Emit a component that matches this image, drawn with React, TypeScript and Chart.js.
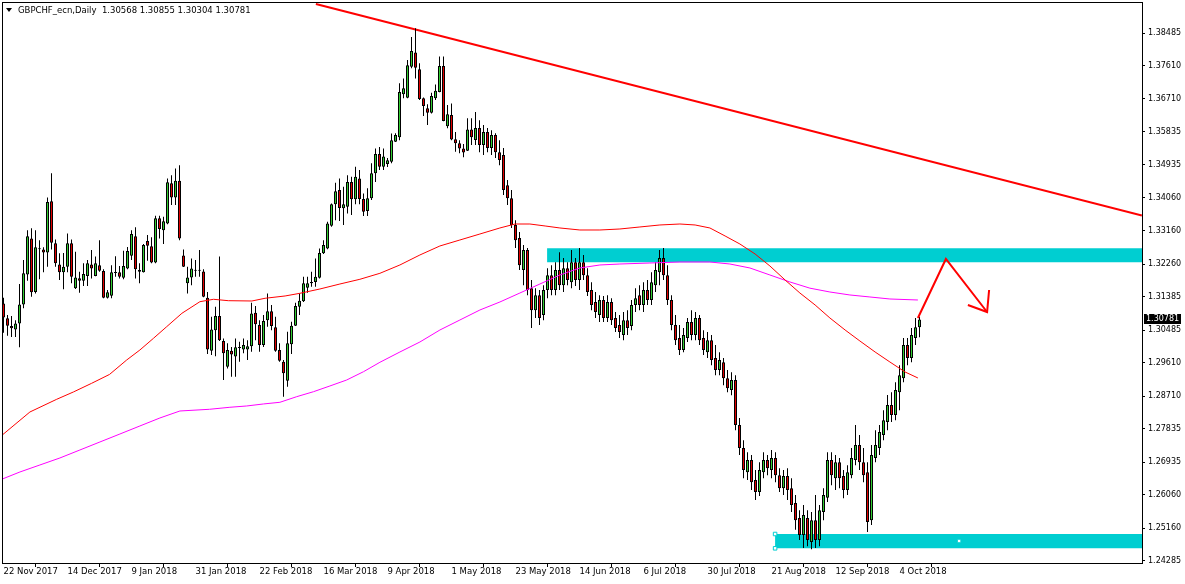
import React, { useEffect, useRef } from "react";
import { Chart, registerables } from "chart.js";

Chart.register(...registerables);

// ---------- data ----------
const dateTickIdx = [0, 16, 32, 48, 64, 80, 96, 112, 128, 144, 160, 176, 192, 208, 224];
const dateTickLabels = [
  "22 Nov 2017", "14 Dec 2017", "9 Jan 2018", "31 Jan 2018", "22 Feb 2018",
  "16 Mar 2018", "9 Apr 2018", "1 May 2018", "23 May 2018", "14 Jun 2018",
  "6 Jul 2018", "30 Jul 2018", "21 Aug 2018", "12 Sep 2018", "4 Oct 2018",
];
const priceTicks = [
  1.38485, 1.3761, 1.3671, 1.35835, 1.34935, 1.3406, 1.3316, 1.3226, 1.31385,
  1.30485, 1.2961, 1.2871, 1.27835, 1.26935, 1.2606, 1.2516, 1.24285,
];

const opens = [
  1.3121,1.3081,1.3060,1.3051,1.3067,1.3118,1.3199,1.3296,1.3152,1.3268,
  1.3266,1.3258,1.3396,1.3283,1.3226,1.3205,1.3220,1.3283,1.3162,1.3189,
  1.3182,1.3195,1.3226,1.3195,1.3224,1.3208,1.3136,1.3142,1.3203,1.3205,
  1.3190,1.3215,1.3249,1.3302,1.3211,1.3205,1.3289,1.3275,1.3231,1.3350,
  1.3318,1.3336,1.3444,1.3406,1.3451,1.3250,1.3175,1.3191,1.3211,1.3209,
  1.3207,1.3136,1.2994,1.3049,1.3087,1.3020,1.2951,1.2994,1.2978,1.3002,
  1.2997,1.2997,1.3006,1.3096,1.3063,1.3009,1.3076,1.3100,1.3057,1.2996,
  1.2964,1.2913,1.3011,1.3061,1.3112,1.3127,1.3163,1.3175,1.3179,1.3190,
  1.3256,1.3269,1.3330,1.3388,1.3426,1.3377,1.3381,1.3448,1.3401,1.3457,
  1.3402,1.3370,1.3404,1.3471,1.3523,1.3489,1.3496,1.3502,1.3556,1.3568,
  1.3684,1.3674,1.3758,1.3796,1.3751,1.3673,1.3646,1.3634,1.3673,1.3690,
  1.3760,1.3598,1.3628,1.3563,1.3552,1.3538,1.3532,1.3589,1.3561,1.3593,
  1.3547,1.3582,1.3539,1.3574,1.3528,1.3520,1.3439,1.3404,1.3332,1.3297,
  1.3211,1.3265,1.3162,1.3103,1.3143,1.3090,1.3157,1.3197,1.3157,1.3211,
  1.3170,1.3216,1.3178,1.3232,1.3184,1.3232,1.3197,1.3157,1.3125,1.3090,
  1.3130,1.3082,1.3125,1.3082,1.3063,1.3036,1.3076,1.3060,1.3117,1.3143,
  1.3117,1.3157,1.3130,1.3170,1.3205,1.3243,1.3197,1.3130,1.3063,1.3028,
  1.2996,1.3028,1.3071,1.3036,1.3082,1.3028,1.2990,1.3022,1.2974,1.2942,
  1.2963,1.2920,1.2888,1.2915,1.2794,1.2732,1.2667,1.2700,1.2646,1.2614,
  1.2667,1.2700,1.2673,1.2705,1.2659,1.2624,1.2657,1.2624,1.2584,1.2544,
  1.2498,1.2544,1.2479,1.2538,1.2485,1.2560,1.2598,1.2700,1.2651,1.2694,
  1.2657,1.2619,1.2659,1.2700,1.2740,1.2694,1.2667,1.2538,1.2705,1.2732,
  1.2767,1.2802,1.2848,1.2821,1.2882,1.2920,1.3009,1.2974,1.3028,1.30568,
];
const highs = [
  1.3136,1.3090,1.3087,1.3076,1.3173,1.3238,1.3318,1.3323,1.3318,1.3291,
  1.3272,1.3406,1.3471,1.3293,1.3256,1.3257,1.3309,1.3293,1.3260,1.3206,
  1.3229,1.3238,1.3265,1.3247,1.3291,1.3213,1.3157,1.3224,1.3248,1.3222,
  1.3263,1.3273,1.3318,1.3326,1.3229,1.3281,1.3305,1.3299,1.3357,1.3357,
  1.3354,1.3457,1.3466,1.3484,1.3493,1.3266,1.3220,1.3242,1.3238,1.3265,
  1.3213,1.3152,1.3085,1.3112,1.3247,1.3027,1.3014,1.3004,1.3027,1.3018,
  1.3027,1.3022,1.3123,1.3114,1.3076,1.3090,1.3148,1.3117,1.3085,1.3014,
  1.2969,1.3045,1.3072,1.3123,1.3148,1.3193,1.3193,1.3206,1.3242,1.3269,
  1.3291,1.3341,1.3390,1.3446,1.3457,1.3435,1.3466,1.3462,1.3489,1.3480,
  1.3417,1.3431,1.3498,1.3538,1.3542,1.3538,1.3512,1.3578,1.3579,1.3713,
  1.3726,1.3776,1.3838,1.3861,1.3767,1.3675,1.3657,1.3688,1.3710,1.3785,
  1.3785,1.3655,1.3659,1.3582,1.3560,1.3550,1.3619,1.3619,1.3636,1.3614,
  1.3601,1.3593,1.3587,1.3579,1.3560,1.3539,1.3453,1.3426,1.3345,1.3313,
  1.3278,1.3270,1.3184,1.3162,1.3157,1.3170,1.3216,1.3224,1.3232,1.3259,
  1.3243,1.3232,1.3265,1.3243,1.3270,1.3251,1.3216,1.3178,1.3152,1.3143,
  1.3141,1.3143,1.3135,1.3098,1.3090,1.3098,1.3103,1.3130,1.3162,1.3170,
  1.3178,1.3184,1.3205,1.3232,1.3265,1.3270,1.3224,1.3143,1.3090,1.3063,
  1.3055,1.3082,1.3103,1.3098,1.3090,1.3049,1.3044,1.3036,1.3009,1.2990,
  1.2974,1.2942,1.2936,1.2928,1.2813,1.2753,1.2721,1.2713,1.2673,1.2694,
  1.2721,1.2713,1.2727,1.2721,1.2678,1.2673,1.2678,1.2651,1.2606,1.2565,
  1.2579,1.2565,1.2560,1.2606,1.2579,1.2624,1.2721,1.2721,1.2713,1.2705,
  1.2673,1.2686,1.2732,1.2794,1.2767,1.2732,1.2694,1.2740,1.2780,1.2794,
  1.2834,1.2875,1.2882,1.2909,1.2955,1.3028,1.3028,1.3055,1.3082,1.30855,
];
const lows = [
  1.3042,1.3034,1.3031,1.3031,1.3003,1.3108,1.3182,1.3139,1.3148,1.3186,
  1.3205,1.3220,1.3266,1.3220,1.3184,1.3159,1.3205,1.3175,1.3160,1.3150,
  1.3168,1.3168,1.3188,1.3194,1.3206,1.3135,1.3134,1.3135,1.3193,1.3188,
  1.3186,1.3213,1.3238,1.3188,1.3175,1.3204,1.3236,1.3229,1.3229,1.3296,
  1.3281,1.3334,1.3386,1.3386,1.3291,1.3219,1.3148,1.3170,1.3193,1.3193,
  1.3138,1.2985,1.2982,1.2979,1.3020,1.2915,1.2946,1.2924,1.2924,1.2964,
  1.2987,1.2969,1.2991,1.3022,1.2991,1.3004,1.3058,1.3049,1.2991,1.2964,
  1.2870,1.2897,1.2985,1.3060,1.3090,1.3125,1.3150,1.3166,1.3166,1.3188,
  1.3254,1.3267,1.3327,1.3345,1.3343,1.3332,1.3363,1.3359,1.3388,1.3388,
  1.3356,1.3356,1.3399,1.3448,1.3480,1.3480,1.3488,1.3498,1.3555,1.3560,
  1.3673,1.3673,1.3754,1.3726,1.3668,1.3625,1.3601,1.3632,1.3668,1.3689,
  1.3611,1.3592,1.3560,1.3529,1.3525,1.3514,1.3531,1.3547,1.3547,1.3528,
  1.3520,1.3528,1.3520,1.3512,1.3493,1.3413,1.3386,1.3324,1.3270,1.3211,
  1.3170,1.3143,1.3055,1.3082,1.3063,1.3076,1.3135,1.3143,1.3143,1.3157,
  1.3152,1.3170,1.3162,1.3168,1.3157,1.3184,1.3141,1.3103,1.3082,1.3071,
  1.3071,1.3071,1.3063,1.3044,1.3028,1.3022,1.3036,1.3049,1.3098,1.3103,
  1.3098,1.3117,1.3117,1.3152,1.3170,1.3184,1.3117,1.3049,1.3009,1.2982,
  1.2990,1.3017,1.3022,1.3022,1.3009,1.2982,1.2974,1.2955,1.2928,1.2928,
  1.2901,1.2882,1.2874,1.2780,1.2713,1.2651,1.2646,1.2619,1.2592,1.2603,
  1.2651,1.2659,1.2651,1.2640,1.2614,1.2606,1.2592,1.2560,1.2512,1.2485,
  1.2463,1.2468,1.2460,1.2463,1.2468,1.2538,1.2587,1.2632,1.2619,1.2624,
  1.2597,1.2606,1.2651,1.2686,1.2673,1.2640,1.2506,1.2525,1.2694,1.2713,
  1.2753,1.2780,1.2802,1.2807,1.2834,1.2909,1.2955,1.2963,1.3009,1.30304,
];
const closes = [
  1.3083,1.3061,1.3054,1.3067,1.3118,1.3202,1.3302,1.3151,1.3272,1.3267,
  1.3258,1.3394,1.3284,1.3229,1.3205,1.3220,1.3283,1.3193,1.3191,1.3182,
  1.3200,1.3229,1.3215,1.3229,1.3209,1.3136,1.3151,1.3205,1.3204,1.3193,
  1.3222,1.3262,1.3308,1.3213,1.3206,1.3278,1.3276,1.3231,1.3350,1.3321,
  1.3342,1.3447,1.3406,1.3451,1.3296,1.3220,1.3191,1.3215,1.3209,1.3211,
  1.3139,1.2997,1.3051,1.3087,1.3022,1.2987,1.2996,1.2984,1.3003,1.3001,
  1.3009,1.3006,1.3094,1.3065,1.3009,1.3074,1.3100,1.3060,1.2994,1.2967,
  1.2933,1.3014,1.3061,1.3114,1.3128,1.3175,1.3175,1.3179,1.3193,1.3257,
  1.3278,1.3336,1.3388,1.3423,1.3378,1.3388,1.3448,1.3401,1.3462,1.3402,
  1.3368,1.3404,1.3471,1.3523,1.3489,1.3516,1.3506,1.3560,1.3574,1.3690,
  1.3700,1.3762,1.3800,1.3755,1.3671,1.3652,1.3634,1.3679,1.3693,1.3760,
  1.3612,1.3630,1.3562,1.3552,1.3538,1.3527,1.3589,1.3568,1.3593,1.3547,
  1.3582,1.3539,1.3574,1.3528,1.3507,1.3426,1.3404,1.3332,1.3291,1.3224,
  1.3265,1.3157,1.3103,1.3143,1.3082,1.3157,1.3197,1.3157,1.3211,1.3170,
  1.3216,1.3184,1.3232,1.3184,1.3232,1.3197,1.3152,1.3117,1.3098,1.3130,
  1.3082,1.3125,1.3076,1.3055,1.3044,1.3076,1.3055,1.3117,1.3135,1.3117,
  1.3157,1.3130,1.3178,1.3211,1.3243,1.3197,1.3130,1.3063,1.3022,1.2996,
  1.3036,1.3071,1.3036,1.3082,1.3022,1.2996,1.3022,1.2969,1.2942,1.2969,
  1.2920,1.2893,1.2915,1.2794,1.2732,1.2673,1.2700,1.2640,1.2614,1.2673,
  1.2700,1.2678,1.2705,1.2659,1.2624,1.2657,1.2619,1.2579,1.2538,1.2498,
  1.2552,1.2485,1.2538,1.2485,1.2565,1.2606,1.2700,1.2659,1.2694,1.2651,
  1.2619,1.2667,1.2705,1.2740,1.2694,1.2659,1.2533,1.2713,1.2740,1.2775,
  1.2807,1.2848,1.2821,1.2888,1.2928,1.3009,1.2974,1.3036,1.3057,1.30781,
];

const maRedIdx = [-0.9,6.6,13.3,17.5,22.0,26.5,30.8,34.1,37.5,40.8,44.6,49.1,52.5,56.2,62.1,65.4,70.4,74.1,79.1,84.1,89.1,94.1,99.1,104.1,109.1,114.1,119.1,124.1,127.9,131.6,135.4,139.1,144.1,149.1,154.1,159.1,164.1,169.1,172.9,176.6,180.4,184.1,187.9,191.6,195.4,199.1,202.9,206.6,210.4,214.1,217.9,221.6,225.4,228.6];
const maRedVal = [1.27618,1.2829,1.28632,1.2883,1.2906,1.293,1.29689,1.29958,1.30273,1.30585,1.30945,1.31257,1.31322,1.31284,1.31276,1.31349,1.31411,1.31483,1.31599,1.31733,1.3186,1.32021,1.32245,1.32514,1.32756,1.32917,1.33078,1.3324,1.33347,1.33347,1.33294,1.3324,1.33186,1.33186,1.33213,1.33267,1.33321,1.33347,1.33321,1.3324,1.33025,1.32809,1.3254,1.32218,1.31841,1.31491,1.31169,1.30819,1.30496,1.302,1.29904,1.29635,1.29366,1.29205];
const maMagIdx = [-0.9,4.1,9.1,14.1,19.1,24.1,29.1,34.1,39.1,44.1,51.5,56.6,60.8,65,69.1,73.3,77.5,81.6,85.8,90,94.1,99.1,104.1,109.1,114.1,119.1,124.1,129.1,134.1,139.1,144.1,149.1,154.1,161.6,169.1,176.6,181.6,186.6,191.6,196.6,201.6,206.6,211.6,216.6,221.6,228.6];
const maMagVal = [1.26461,1.26676,1.26865,1.27053,1.27268,1.27483,1.27698,1.27914,1.28129,1.28317,1.28363,1.28417,1.28452,1.28506,1.28551,1.28702,1.28836,1.2899,1.29151,1.29374,1.29627,1.29904,1.30173,1.30496,1.30765,1.31034,1.31249,1.31491,1.31733,1.31976,1.32164,1.32245,1.32271,1.32298,1.32325,1.32325,1.32271,1.32164,1.31976,1.31788,1.31621,1.31518,1.31438,1.31384,1.3133,1.31303];

const trendIdx = [78.1, 284.6];
const trendVal = [1.39265, 1.33576];

const zoneUpperIdx = [135.9, 284.7];
const zoneUpperTop = 1.32694;
const zoneUpperBottom = 1.32318;
const zoneLowerIdx = [192.9, 284.7];
const zoneLowerTop = 1.25008;
const zoneLowerBottom = 1.24623;

const arrowIdx = [228.6, 235.6, 245.9];
const arrowVal = [1.30819, 1.32406, 1.3098];
const arrowHeadIdx = [241.1, 245.9, 246.4];
const arrowHeadVal = [1.31169, 1.3098, 1.31572];

const markerIdx = [192.9, 192.9, 238.9];
const markerVal = [1.25008, 1.24623, 1.2482];

const titleText = "GBPCHF_ecn,Daily  1.30568 1.30855 1.30304 1.30781";

// ---------- styles ----------
const GREEN = "#32CD32";
const RED = "#E00000";
const CYAN = "#00CED1";
const FONT = "'DejaVu Sans', sans-serif";

const pts = (xs: number[], ys: number[]) => xs.map((x, i) => ({ x, y: ys[i] }));

const zeroPad = (scale: any) => {
  scale.paddingTop = 0;
  scale.paddingBottom = 0;
  scale.paddingLeft = 0;
  scale.paddingRight = 0;
};

const framePlugin = {
  id: "mtFrame",
  afterDatasetsDraw(chart: any) {
    const { ctx, chartArea: a } = chart;
    ctx.save();
    ctx.strokeStyle = "#000";
    ctx.lineWidth = 1;
    ctx.strokeRect(a.left + 0.5, a.top + 0.5, a.right - a.left, a.bottom - a.top);
    ctx.restore();
  },
  afterDraw(chart: any) {
    const { ctx, chartArea: a } = chart;
    const last = closes[closes.length - 1];
    const y = Math.round(chart.scales.y.getPixelForValue(last));
    ctx.save();
    ctx.fillStyle = "#000";
    ctx.fillRect(a.right + 2, y - 5, 37, 10);
    ctx.fillStyle = "#fff";
    ctx.font = "8px " + FONT;
    ctx.textBaseline = "middle";
    ctx.textAlign = "left";
    ctx.fillText(last.toFixed(5), a.right + 4, y);
    ctx.restore();
  },
};

export default function App() {
  const ref = useRef<HTMLCanvasElement>(null);

  useEffect(() => {
    const wickData = opens.map((_, i) => ({ x: i, y: [lows[i], highs[i]] }));
    const bodyData = opens.map((o, i) => ({ x: i, y: [o, closes[i]] }));
    const bodyColors = opens.map((o, i) => (closes[i] > o ? GREEN : RED));

    const lineBase = { pointRadius: 0, tension: 0, fill: false };

    const chart = new Chart(ref.current as HTMLCanvasElement, {
      type: "bar",
      data: {
        datasets: [
          {
            type: "line",
            data: pts(zoneUpperIdx, [zoneUpperTop, zoneUpperTop]),
            ...lineBase,
            fill: { value: zoneUpperBottom },
            backgroundColor: CYAN,
            borderWidth: 0,
            borderColor: CYAN,
            order: 20,
          },
          {
            type: "line",
            data: pts(zoneLowerIdx, [zoneLowerTop, zoneLowerTop]),
            ...lineBase,
            fill: { value: zoneLowerBottom },
            backgroundColor: CYAN,
            borderWidth: 0,
            borderColor: CYAN,
            order: 19,
          },
          {
            type: "line",
            data: pts(trendIdx, trendVal),
            ...lineBase,
            borderColor: "#FF0000",
            borderWidth: 2,
            order: 18,
          },
          {
            type: "bar",
            data: wickData,
            backgroundColor: "#000",
            borderWidth: 0,
            barThickness: 1,
            grouped: false,
            inflateAmount: 0,
            order: 10,
          },
          {
            type: "bar",
            data: bodyData,
            backgroundColor: bodyColors,
            borderColor: "#000",
            borderWidth: 1,
            borderSkipped: false,
            barThickness: 3,
            minBarLength: 1,
            grouped: false,
            inflateAmount: 0,
            order: 9,
          },
          {
            type: "line",
            data: pts(maRedIdx, maRedVal),
            ...lineBase,
            borderColor: "#FF0000",
            borderWidth: 1,
            order: 5,
          },
          {
            type: "line",
            data: pts(maMagIdx, maMagVal),
            ...lineBase,
            borderColor: "#FF00FF",
            borderWidth: 1,
            order: 5,
          },
          {
            type: "line",
            data: pts(arrowIdx, arrowVal),
            ...lineBase,
            borderColor: "#FF0000",
            borderWidth: 2,
            order: 3,
          },
          {
            type: "line",
            data: pts(arrowHeadIdx, arrowHeadVal),
            ...lineBase,
            borderColor: "#FF0000",
            borderWidth: 2,
            order: 3,
          },
          {
            type: "line",
            data: pts(markerIdx, markerVal),
            showLine: false,
            pointStyle: "rect",
            pointRadius: 2.5,
            pointBackgroundColor: "#fff",
            pointBorderColor: CYAN,
            pointBorderWidth: 1,
            order: 1,
          },
        ] as any,
      },
      options: {
        responsive: false,
        animation: false,
        events: [],
        layout: { autoPadding: false, padding: { left: 2, top: 2, right: 0, bottom: 0 } },
        plugins: { legend: { display: false }, tooltip: { enabled: false }, title: { display: false } },
        scales: {
          x: {
            type: "linear",
            min: -0.375,
            max: 284.625,
            offset: false,
            border: { display: false },
            grid: {
              display: true,
              drawOnChartArea: false,
              drawTicks: true,
              tickLength: 4,
              tickColor: "#000",
              tickWidth: 1,
            },
            ticks: {
              autoSkip: false,
              maxRotation: 0,
              minRotation: 0,
              align: "start",
              padding: 0,
              color: "#000",
              font: { family: FONT, size: 8.5 },
              callback: (v: any) => {
                const k = dateTickIdx.indexOf(Number(v));
                return k >= 0 ? dateTickLabels[k] : "";
              },
            },
            afterBuildTicks: (scale: any) => {
              scale.ticks = dateTickIdx.map((v) => ({ value: v }));
            },
            afterFit: (scale: any) => {
              scale.height = 21;
              zeroPad(scale);
            },
          },
          y: {
            type: "linear",
            position: "right",
            min: 1.24228,
            max: 1.39319,
            border: { display: false },
            grid: {
              display: true,
              drawOnChartArea: false,
              drawTicks: true,
              tickLength: 3,
              tickColor: "#000",
              tickWidth: 1,
            },
            ticks: {
              autoSkip: false,
              padding: 3,
              color: "#000",
              font: { family: FONT, size: 8 },
              callback: (v: any) => Number(v).toFixed(5),
            },
            afterBuildTicks: (scale: any) => {
              scale.ticks = priceTicks.map((v) => ({ value: v }));
            },
            afterFit: (scale: any) => {
              scale.width = 43;
              zeroPad(scale);
            },
          },
        },
      } as any,
      plugins: [framePlugin],
    });
    return () => chart.destroy();
  }, []);

  return (
    <div style={{ position: "relative", width: 1185, height: 584, background: "#fff" }}>
      <style>{"body{margin:0;background:#fff}"}</style>
      <canvas ref={ref} width={1185} height={584} style={{ display: "block" }} />
      <div
        style={{
          position: "absolute",
          left: 6,
          top: 4,
          display: "flex",
          alignItems: "center",
          fontFamily: FONT,
          fontSize: 8.5,
          color: "#000",
          whiteSpace: "pre",
          lineHeight: "12px",
        }}
      >
        <span
          style={{
            display: "inline-block",
            width: 0,
            height: 0,
            borderLeft: "3px solid transparent",
            borderRight: "3px solid transparent",
            borderTop: "4px solid #000",
            marginRight: 6,
          }}
        />
        <span>{titleText}</span>
      </div>
    </div>
  );
}
